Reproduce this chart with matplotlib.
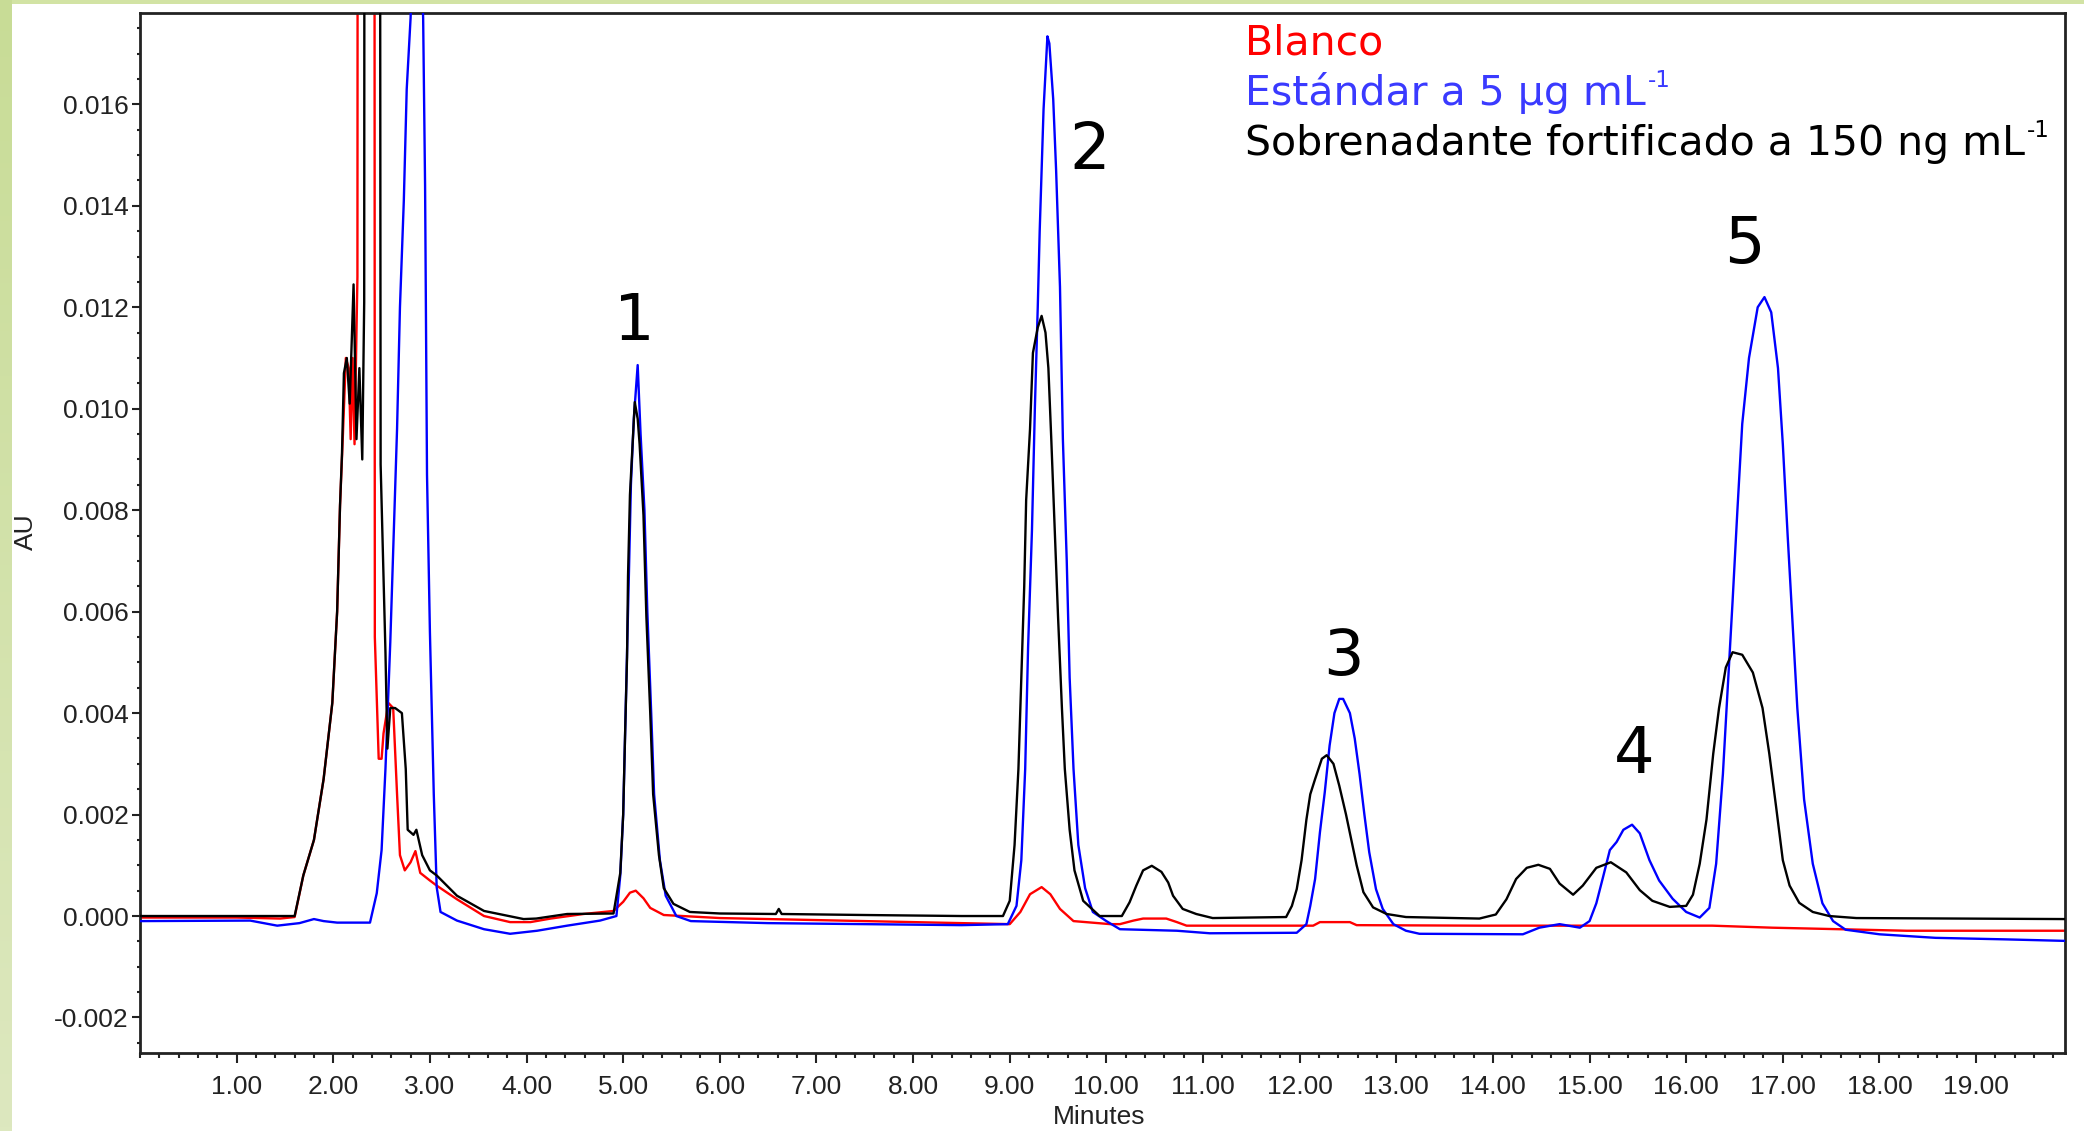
import matplotlib
matplotlib.use('Agg')
import matplotlib.pyplot as plt
import numpy as np
from matplotlib.ticker import MultipleLocator, FormatStrFormatter
from matplotlib.patches import Rectangle
from matplotlib.colors import LinearSegmentedColormap

plt.rcParams['font.family'] = ['Liberation Sans', 'DejaVu Sans']

# ---------------- data ----------------
legend_labels = ['Blanco', 'Estándar a 5 µg mL', 'Sobrenadante fortificado a 150 ng mL']
legend_sups = ['', '-1', '-1']
peak_labels = ['1', '2', '3', '4', '5']
peak_label_t = [5.11, 9.83, 12.45, 15.46, 16.60]
peak_label_v = [0.01135, 0.01473, 0.00475, 0.00281, 0.01288]

xticks = [1, 2, 3, 4, 5, 6, 7, 8, 9, 10, 11, 12, 13, 14, 15, 16, 17, 18, 19]
yticks = [-0.002, 0.000, 0.002, 0.004, 0.006, 0.008, 0.010, 0.012, 0.014, 0.016]

# Sobrenadante fortificado (black)
black_t = [0.00, 1.00, 1.60, 1.69, 1.80, 1.90, 1.99, 2.04, 2.07, 2.09, 2.11, 2.14, 2.17, 2.21,
           2.24, 2.27, 2.30, 2.32, 2.33, 2.47, 2.49, 2.54, 2.56, 2.59, 2.64, 2.71, 2.75, 2.77,
           2.83, 2.86, 2.92, 3.00, 3.07, 3.28, 3.56, 3.97, 4.10, 4.42, 4.90, 4.97, 5.00, 5.02,
           5.04, 5.05, 5.07, 5.10, 5.12, 5.15, 5.17, 5.21, 5.24, 5.28, 5.31, 5.37, 5.42, 5.52,
           5.69, 6.00, 6.58, 6.61, 6.64, 7.50, 8.50, 8.93, 9.00, 9.05, 9.09, 9.12, 9.15, 9.17,
           9.21, 9.24, 9.29, 9.33, 9.37, 9.40, 9.43, 9.47, 9.50, 9.54, 9.57, 9.62, 9.67, 9.76,
           9.93, 10.16, 10.24, 10.31, 10.38, 10.47, 10.57, 10.64, 10.69, 10.79, 10.93, 11.10,
           11.86, 11.92, 11.97, 12.02, 12.07, 12.11, 12.16, 12.23, 12.28, 12.35, 12.41, 12.48,
           12.54, 12.59, 12.66, 12.76, 12.90, 13.10, 13.86, 14.03, 14.14, 14.24, 14.35, 14.47,
           14.59, 14.69, 14.83, 14.93, 15.07, 15.22, 15.38, 15.52, 15.65, 15.83, 16.00, 16.07,
           16.14, 16.21, 16.28, 16.34, 16.41, 16.48, 16.58, 16.69, 16.79, 16.86, 16.93, 17.00,
           17.07, 17.17, 17.31, 17.48, 17.76, 19.92]
black_v = [0.00000, 0.00000, 0.00000, 0.00080, 0.00150, 0.00270, 0.00420, 0.00600, 0.00810,
           0.00910, 0.01070, 0.01100, 0.01010, 0.01245, 0.00940, 0.01080, 0.00900, 0.01210,
           0.05000, 0.05000, 0.00890, 0.00520, 0.00330, 0.00410, 0.00410, 0.00400, 0.00290,
           0.00170, 0.00160, 0.00170, 0.00120, 0.00090, 0.00080, 0.00040, 0.00010, -0.00006,
           -0.00005, 0.00004, 0.00005, 0.00085, 0.00200, 0.00360, 0.00510, 0.00670, 0.00830,
           0.00940, 0.01013, 0.00980, 0.00930, 0.00790, 0.00590, 0.00400, 0.00240, 0.00120,
           0.00055, 0.00024, 0.00008, 0.00005, 0.00004, 0.00014, 0.00004, 0.00002, 0.00000,
           0.00000, 0.00030, 0.00140, 0.00290, 0.00470, 0.00650, 0.00820, 0.00960, 0.01110,
           0.01160, 0.01183, 0.01150, 0.01080, 0.00940, 0.00740, 0.00590, 0.00410, 0.00290,
           0.00170, 0.00090, 0.00030, 0.00000, 0.00000, 0.00027, 0.00060, 0.00090, 0.00099,
           0.00087, 0.00066, 0.00040, 0.00014, 0.00004, -0.00004, -0.00002, 0.00020, 0.00053,
           0.00110, 0.00190, 0.00240, 0.00270, 0.00310, 0.00317, 0.00300, 0.00257, 0.00200,
           0.00145, 0.00100, 0.00047, 0.00017, 0.00004, -0.00002, -0.00005, 0.00003, 0.00033,
           0.00073, 0.00095, 0.00101, 0.00093, 0.00064, 0.00042, 0.00060, 0.00095, 0.00106,
           0.00086, 0.00051, 0.00030, 0.00018, 0.00020, 0.00042, 0.00103, 0.00190, 0.00320,
           0.00410, 0.00490, 0.00520, 0.00515, 0.00480, 0.00410, 0.00320, 0.00216, 0.00110,
           0.00060, 0.00026, 0.00008, 0.00000, -0.00004, -0.00006]

# Estándar (blue)
blue_t = [0.00, 1.14, 1.42, 1.65, 1.80, 1.90, 2.04, 2.38, 2.45, 2.50, 2.54, 2.59, 2.62, 2.66,
          2.69, 2.73, 2.76, 2.80, 2.86, 2.93, 2.95, 2.97, 3.00, 3.04, 3.07, 3.11, 3.28, 3.56,
          3.83, 4.11, 4.42, 4.76, 4.93, 4.97, 5.00, 5.02, 5.04, 5.06, 5.08, 5.11, 5.15, 5.18,
          5.22, 5.25, 5.29, 5.32, 5.38, 5.44, 5.55, 5.70, 6.50, 7.50, 8.50, 8.98, 9.07, 9.12,
          9.16, 9.19, 9.23, 9.26, 9.29, 9.31, 9.35, 9.39, 9.41, 9.45, 9.48, 9.52, 9.55, 9.59,
          9.62, 9.66, 9.71, 9.78, 9.86, 10.00, 10.14, 10.73, 11.07, 11.97, 12.07, 12.11, 12.16,
          12.21, 12.26, 12.31, 12.36, 12.41, 12.45, 12.52, 12.57, 12.62, 12.67, 12.72, 12.79,
          12.86, 12.97, 13.10, 13.24, 14.31, 14.48, 14.69, 14.90, 15.00, 15.07, 15.14, 15.21,
          15.28, 15.35, 15.44, 15.52, 15.62, 15.72, 15.86, 16.00, 16.14, 16.24, 16.31, 16.38,
          16.43, 16.48, 16.53, 16.58, 16.65, 16.74, 16.81, 16.88, 16.95, 17.00, 17.05, 17.10,
          17.15, 17.22, 17.31, 17.41, 17.52, 17.65, 18.00, 18.58, 19.30, 19.92]
blue_v = [-0.00010, -0.00009, -0.00019, -0.00014, -0.00006, -0.00010, -0.00013, -0.00013,
          0.00045, 0.00130, 0.00290, 0.00540, 0.00720, 0.00960, 0.01200, 0.01410, 0.01630,
          0.01770, 0.02200, 0.01770, 0.01440, 0.00870, 0.00560, 0.00240, 0.00057, 0.00008,
          -0.00009, -0.00026, -0.00035, -0.00029, -0.00019, -0.00009, 0.00000, 0.00080,
          0.00200, 0.00360, 0.00520, 0.00680, 0.00850, 0.00980, 0.01086, 0.00950, 0.00800,
          0.00600, 0.00400, 0.00240, 0.00110, 0.00040, 0.00000, -0.00010, -0.00014, -0.00016,
          -0.00018, -0.00016, 0.00020, 0.00110, 0.00290, 0.00530, 0.00760, 0.01000, 0.01200,
          0.01350, 0.01590, 0.01734, 0.01720, 0.01610, 0.01470, 0.01240, 0.00940, 0.00700,
          0.00470, 0.00290, 0.00140, 0.00055, 0.00008, -0.00010, -0.00026, -0.00029, -0.00034,
          -0.00033, -0.00016, 0.00020, 0.00073, 0.00165, 0.00244, 0.00336, 0.00400, 0.00428,
          0.00428, 0.00400, 0.00350, 0.00280, 0.00200, 0.00126, 0.00053, 0.00014, -0.00016,
          -0.00029, -0.00035, -0.00036, -0.00023, -0.00016, -0.00023, -0.00010, 0.00025,
          0.00077, 0.00130, 0.00146, 0.00170, 0.00180, 0.00163, 0.00110, 0.00070, 0.00034,
          0.00008, -0.00003, 0.00016, 0.00103, 0.00280, 0.00450, 0.00620, 0.00800, 0.00970,
          0.01100, 0.01200, 0.01220, 0.01190, 0.01080, 0.00930, 0.00750, 0.00580, 0.00410,
          0.00230, 0.00103, 0.00025, -0.00010, -0.00027, -0.00036, -0.00043, -0.00046, -0.00049]

# Blanco (red)
red_t = [0.00, 1.00, 1.45, 1.60, 1.69, 1.80, 1.90, 1.99, 2.04, 2.07, 2.10, 2.13, 2.16, 2.18,
         2.20, 2.22, 2.25, 2.26, 2.42, 2.43, 2.47, 2.50, 2.52, 2.57, 2.62, 2.66, 2.69, 2.74,
         2.80, 2.85, 2.90, 3.00, 3.07, 3.28, 3.56, 3.83, 4.04, 4.25, 4.59, 4.90, 5.00, 5.07,
         5.13, 5.21, 5.28, 5.42, 6.00, 7.00, 8.50, 9.00, 9.11, 9.21, 9.33, 9.42, 9.52, 9.66,
         10.04, 10.14, 10.28, 10.38, 10.62, 10.73, 10.83, 12.14, 12.21, 12.52, 12.59, 13.86,
         16.27, 16.89, 18.28, 19.92]
red_v = [-0.00003, -0.00003, -0.00005, -0.00002, 0.00080, 0.00150, 0.00270, 0.00420, 0.00600,
         0.00810, 0.00950, 0.01100, 0.01080, 0.00940, 0.01100, 0.00930, 0.01260, 0.05000,
         0.05000, 0.00550, 0.00310, 0.00310, 0.00360, 0.00420, 0.00410, 0.00240, 0.00120,
         0.00090, 0.00106, 0.00128, 0.00085, 0.00070, 0.00060, 0.00033, 0.00000, -0.00012,
         -0.00012, -0.00005, 0.00004, 0.00010, 0.00028, 0.00046, 0.00050, 0.00035, 0.00016,
         0.00002, -0.00004, -0.00008, -0.00014, -0.00016, 0.00008, 0.00043, 0.00057, 0.00043,
         0.00014, -0.00010, -0.00016, -0.00016, -0.00009, -0.00005, -0.00005, -0.00012,
         -0.00019, -0.00019, -0.00012, -0.00012, -0.00018, -0.00019, -0.00019, -0.00023,
         -0.00029, -0.00029]

# ---------------- figure ----------------
W, H = 2084, 1131
fig = plt.figure(figsize=(W / 100, H / 100), dpi=100)
fig.patch.set_facecolor('white')

# light green frame (left strip with gradient + thin top strip)
strip = fig.add_axes([0, 0, 12 / W, 1])
cmap = LinearSegmentedColormap.from_list('g', ['#c8dc96', '#dde8bf'])
strip.imshow(np.linspace(0, 1, 256).reshape(-1, 1), aspect='auto', cmap=cmap,
             extent=[0, 1, 0, 1], origin='upper')
strip.axis('off')
fig.add_artist(Rectangle((0, 1 - 4 / H), 1, 4 / H, transform=fig.transFigure,
                         facecolor='#d2e3a4', edgecolor='none', zorder=0))

ax = fig.add_axes([140 / W, (H - 1053) / H, 1925 / W, 1040 / H])
ax.plot(red_t, red_v, color='#ff0000', lw=1.7, zorder=2)
ax.plot(blue_t, blue_v, color='#0000ff', lw=1.7, zorder=3)
ax.plot(black_t, black_v, color='#000000', lw=1.7, zorder=4)

ax.set_xlim(0, 19.92)
ax.set_ylim(-0.0027, 0.0178)
ax.set_xticks(xticks)
ax.xaxis.set_major_formatter(FormatStrFormatter('%.2f'))
ax.xaxis.set_minor_locator(MultipleLocator(0.2))
ax.set_yticks(yticks)
ax.yaxis.set_major_formatter(FormatStrFormatter('%.3f'))
ax.yaxis.set_minor_locator(MultipleLocator(0.0005))

for s in ax.spines.values():
    s.set_linewidth(2.0)
    s.set_color('#222222')
ax.tick_params(axis='x', which='major', length=7.2, width=1.5, pad=9, labelsize=19,
               colors='#222222')
ax.tick_params(axis='x', which='minor', length=3.6, width=1.5, colors='#222222')
ax.tick_params(axis='y', which='major', length=5.8, width=1.5, pad=2.5, labelsize=19,
               colors='#222222')
ax.tick_params(axis='y', which='minor', length=2.4, width=1.5, colors='#222222')

fig.text(1099 / W, 1 - 1117 / H, 'Minutes', ha='center', va='center', fontsize=19,
         color='#222222')
fig.text(26 / W, 1 - 532 / H, 'AU', ha='center', va='center', rotation=90, fontsize=19,
         color='#222222')

# peak numbers
for lab, t, v in zip(peak_labels, peak_label_t, peak_label_v):
    ax.text(t, v, lab, ha='center', va='baseline', fontsize=46, family='DejaVu Sans',
            color='black', zorder=6)

# legend text with small superscripts
leg_colors = ['#ff0000', '#3a3aff', '#000000']
leg_y = [0.960, 0.9115, 0.863]
for lab, sup, c, y in zip(legend_labels, legend_sups, leg_colors, leg_y):
    txt = ax.text(0.574, y, lab, transform=ax.transAxes, ha='left', va='baseline',
                  fontsize=29.5, family='DejaVu Sans', color=c, zorder=6)
    if sup:
        ax.annotate(sup, xy=(1, 0), xycoords=txt, xytext=(1.5, 19.5), textcoords='offset points',
                    ha='left', va='baseline', fontsize=16.5, family='DejaVu Sans', color=c,
                    zorder=6)

fig.savefig('out.png', dpi=100)
